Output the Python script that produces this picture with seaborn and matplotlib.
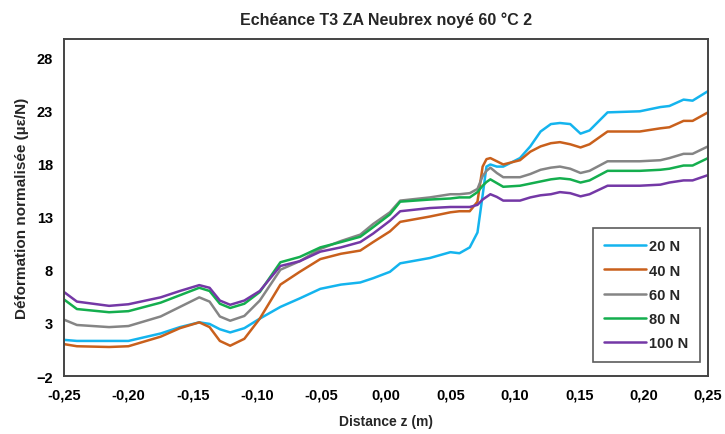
import matplotlib
matplotlib.use("Agg")
import matplotlib.pyplot as plt
import seaborn as sns
import pandas as pd

# distance z (m) and normalised strain per load
z = [-0.25, -0.24, -0.215, -0.20, -0.175, -0.16, -0.145, -0.137, -0.129, -0.121,
     -0.11, -0.098, -0.082, -0.067, -0.051, -0.035, -0.02, -0.01, 0.003, 0.011,
     0.034, 0.05, 0.057, 0.065, 0.071, 0.075, 0.078, 0.081, 0.086, 0.091,
     0.104, 0.112, 0.12, 0.128, 0.135, 0.143, 0.151, 0.158, 0.172, 0.197,
     0.213, 0.22, 0.231, 0.238, 0.25]

n20 = [1.4, 1.3, 1.3, 1.3, 2.0, 2.6, 3.05, 2.9, 2.4, 2.1,
       2.5, 3.4, 4.5, 5.3, 6.2, 6.6, 6.8, 7.2, 7.8, 8.6,
       9.1, 9.65, 9.55, 10.1, 11.5, 15.0, 17.7, 17.9, 17.7, 17.7,
       18.5, 19.6, 21.0, 21.7, 21.8, 21.7, 20.8, 21.1, 22.8, 22.9,
       23.3, 23.4, 24.0, 23.9, 24.8]
n40 = [1.0, 0.8, 0.73, 0.8, 1.7, 2.5, 3.05, 2.6, 1.3, 0.85,
       1.5, 3.4, 6.6, 7.8, 9.0, 9.5, 9.8, 10.6, 11.6, 12.5,
       13.0, 13.4, 13.5, 13.5, 14.4, 17.7, 18.4, 18.5, 18.2, 17.9,
       18.3, 19.1, 19.6, 19.9, 20.0, 19.8, 19.5, 19.8, 21.0, 21.0,
       21.3, 21.4, 22.0, 22.0, 22.8]
n60 = [3.3, 2.8, 2.6, 2.7, 3.6, 4.5, 5.4, 5.0, 3.6, 3.2,
       3.65, 5.1, 8.0, 8.8, 9.95, 10.7, 11.3, 12.3, 13.4, 14.5,
       14.8, 15.1, 15.1, 15.2, 15.6, 16.8, 17.3, 17.6, 17.1, 16.7,
       16.7, 17.0, 17.4, 17.6, 17.7, 17.5, 17.1, 17.3, 18.2, 18.2,
       18.3, 18.5, 18.9, 18.9, 19.6]
n80 = [5.2, 4.3, 4.0, 4.1, 4.9, 5.6, 6.3, 6.0, 4.8, 4.4,
       4.8, 5.9, 8.7, 9.2, 10.1, 10.6, 11.1, 12.0, 13.2, 14.4,
       14.6, 14.7, 14.8, 14.8, 15.3, 15.9, 16.25, 16.5, 16.15, 15.8,
       15.9, 16.1, 16.3, 16.5, 16.6, 16.5, 16.2, 16.4, 17.3, 17.3,
       17.4, 17.5, 17.8, 17.8, 18.5]
n100 = [5.9, 5.0, 4.6, 4.75, 5.4, 6.0, 6.55, 6.3, 5.1, 4.7,
        5.1, 6.0, 8.35, 8.8, 9.7, 10.1, 10.6, 11.4, 12.6, 13.5,
        13.8, 13.9, 13.9, 13.9, 14.1, 14.6, 14.85, 15.1, 14.85, 14.5,
        14.5, 14.8, 15.0, 15.1, 15.3, 15.2, 14.9, 15.1, 15.9, 15.9,
        16.0, 16.2, 16.4, 16.4, 16.9]

labels = ["20 N", "40 N", "60 N", "80 N", "100 N"]
colors = ["#14B4EE", "#C9601C", "#858585", "#14AE4E", "#7438A6"]
xticks = [-0.25, -0.20, -0.15, -0.10, -0.05, 0.00, 0.05, 0.10, 0.15, 0.20, 0.25]
yticks = [-2, 3, 8, 13, 18, 23, 28]

frames = []
for lab, vals in zip(labels, [n20, n40, n60, n80, n100]):
    frames.append(pd.DataFrame({"z": z, "eps": vals, "Force": lab}))
df = pd.concat(frames, ignore_index=True)

sns.set_style("white")
plt.rcParams['font.family'] = ['Liberation Sans', 'DejaVu Sans']
plt.rcParams['font.weight'] = 'bold'

fig = plt.figure(figsize=(7.25, 4.35), dpi=100)
ax = fig.add_axes([0.0883, 0.1333, 0.8883, 0.7747])

sns.lineplot(data=df, x="z", y="eps", hue="Force", palette=dict(zip(labels, colors)),
             linewidth=1.8, ax=ax, legend=True)

ax.set_xlim(-0.25, 0.25)
ax.set_ylim(-2, 29.7)
ax.set_xticks(xticks)
ax.set_xticklabels([f"{t:.2f}".replace(".", ",") for t in xticks])
ax.set_yticks(yticks)
ax.tick_params(direction="in", length=4, width=1, colors="#444444", labelsize=10.5,
               labelcolor="black", pad=8)
for lab in ax.get_xticklabels() + ax.get_yticklabels():
    lab.set_fontweight("bold")
for sp in ax.spines.values():
    sp.set_color("#444444")
    sp.set_linewidth(1.4)

ax.set_title("Echéance T3 ZA Neubrex noyé 60 °C 2", fontsize=11.5, fontweight="bold", pad=11)
ax.set_xlabel("Distance z (m)", fontsize=10, fontweight="bold", labelpad=9)
ax.set_ylabel("Déformation normalisée (µε/N)", fontsize=11, fontweight="bold", labelpad=5)

leg = ax.legend(loc="lower right", bbox_to_anchor=(0.988, 0.042), fontsize=10.5,
                frameon=True, fancybox=False, edgecolor="#333333", handlelength=2.9,
                handletextpad=0.2, labelspacing=0.7, borderpad=0.8, borderaxespad=0)
leg.get_frame().set_linewidth(1.2)
for t in leg.get_texts():
    t.set_fontweight("bold")

plt.savefig("out.png", dpi=100)
